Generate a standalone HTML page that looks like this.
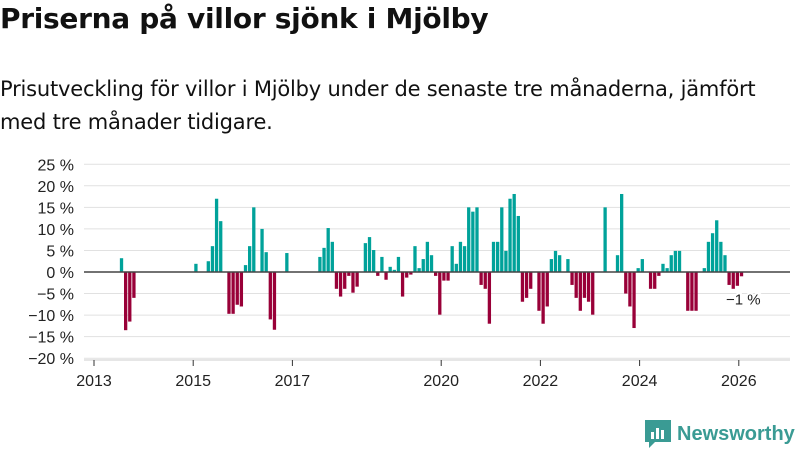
<!DOCTYPE html>
<html><head><meta charset="utf-8">
<style>
body{margin:0;width:800px;height:450px;background:#fff;font-family:"Liberation Sans","DejaVu Sans",sans-serif;color:#111;overflow:hidden;position:relative}
h1{position:absolute;left:0;top:2px;margin:0;font-family:"DejaVu Sans",sans-serif;font-size:28px;font-weight:bold;letter-spacing:-0.3px}
p{position:absolute;left:0;top:73px;margin:0;font-family:"DejaVu Sans",sans-serif;font-size:21px;line-height:33px;width:795px;letter-spacing:-0.2px}
svg{position:absolute;left:0;top:0}
</style></head><body>
<h1>Priserna på villor sjönk i Mjölby</h1>
<p>Prisutveckling för villor i Mjölby under de senaste tre månaderna, jämfört med tre månader tidigare.</p>
<svg id="chart" width="800" height="450"></svg>
<script>
// month index from Jan 2013
const months=[6,7,8,9,24,27,28,29,30,32,33,34,35,36,37,38,40,41,42,43,46,
54,55,56,57,58,59,60,61,62,63,65,66,67,68,69,70,71,72,73,74,75,76,77,78,79,80,81,82,83,84,85,86,87,88,89,90,91,92,93,94,95,96,97,98,99,100,101,102,103,104,105,
107,108,109,110,111,112,114,115,116,117,118,119,120,123,126,127,128,129,130,131,132,134,135,136,137,138,139,140,141,143,144,145,147,148,149,150,151,152,153,154,155,156];
const values=[3.2,-13.5,-11.5,-6,1.9,2.5,6,17,11.8,-9.7,-9.7,-7.6,-8,1.6,6,15,10,4.6,-11,-13.4,4.4,
3.5,5.6,10.2,7,-3.9,-5.7,-3.9,-0.9,-4.8,-3.4,6.7,8.1,5.1,-0.9,3.5,-1.8,1.2,0.5,3.5,-5.7,-1.3,-0.6,6,0.9,3,7,3.9,-0.9,-9.9,-2,-2,6,1.9,7,6,15,14,15,-3,-3.9,-12,7,7,15,4.9,17,18.1,13,-6.9,-6,-3.9,
-9,-12,-8,3,4.9,3.9,3,-3,-6,-9,-6,-6.9,-9.9,15,3.9,18.1,-5,-8,-13,0.9,3,-3.9,-3.9,-0.9,1.9,0.9,3.9,4.9,4.9,-9,-9,-9,0.9,7,9,12,7,3.9,-3,-3.9,-3.2,-1];
const yTicks=[25,20,15,10,5,0,-5,-10,-15,-20];
const xTickYears=[2013,2015,2017,2020,2022,2024,2026];
const NS="http://www.w3.org/2000/svg";
const svg=document.getElementById('chart');
const X0=94,PX_YEAR=49.6;
function xm(m){return X0+m*PX_YEAR/12;}
function y(v){return 272-v*4.31;}
function mk(t,a,txt){const e=document.createElementNS(NS,t);for(const k in a)e.setAttribute(k,a[k]);if(txt!==undefined)e.textContent=txt;svg.appendChild(e);return e;}
yTicks.forEach(v=>{
 const g=mk('line',{x1:84,x2:790,y1:y(v),y2:y(v),stroke:'#e1e1e1','stroke-width':1});
 
 
 const t=mk('text',{x:74,y:y(v)+6,'text-anchor':'end','font-size':16,fill:'#222'},(v<0?'−'+(-v):v)+' %');
 
 
});
months.forEach((m,i)=>{
 const v=values[i];
 const r=mk('rect',{x:xm(m+0.5)-1,y:v>=0?y(v):y(0),width:3.3,height:Math.abs(y(v)-y(0)),fill:v>=0?'#00a29a':'#990038'});
 
 
});
const base=mk('line',{x1:84,x2:790,y1:y(0),y2:y(0),stroke:'#444','stroke-width':1.5});


const ax=mk('line',{x1:84,x2:790,y1:360,y2:360,stroke:'#ccc','stroke-width':1});


xTickYears.forEach(yr=>{
 const x=xm((yr-2013)*12);
 const tk=mk('line',{x1:x,x2:x,y1:360,y2:366,stroke:'#333'});
 
 
 const t=mk('text',{x:x,y:386,'text-anchor':'middle','font-size':16,fill:'#222'},yr);
 
 
});
const last=values[values.length-1];
const lbl=mk('text',{x:726,y:y(last)+28,'font-size':15,fill:'#222',stroke:'#fff','stroke-width':4,'paint-order':'stroke'},'−1 %');


</script>
<div style="position:absolute;left:645px;top:420px;display:flex;align-items:center;gap:6px">
<svg width="26" height="28" viewBox="0 0 26 28" style="position:static"><path d="M0 0h26v22H10l-6 6v-6H0z" fill="#3a9b94"/><rect x="6" y="12" width="3" height="7" fill="#fff"/><rect x="11" y="8" width="3" height="11" fill="#fff"/><rect x="16" y="10" width="3" height="9" fill="#fff"/></svg>
<span style="font-size:20px;color:#3a9b94;font-weight:bold">Newsworthy</span></div>
</body></html>
